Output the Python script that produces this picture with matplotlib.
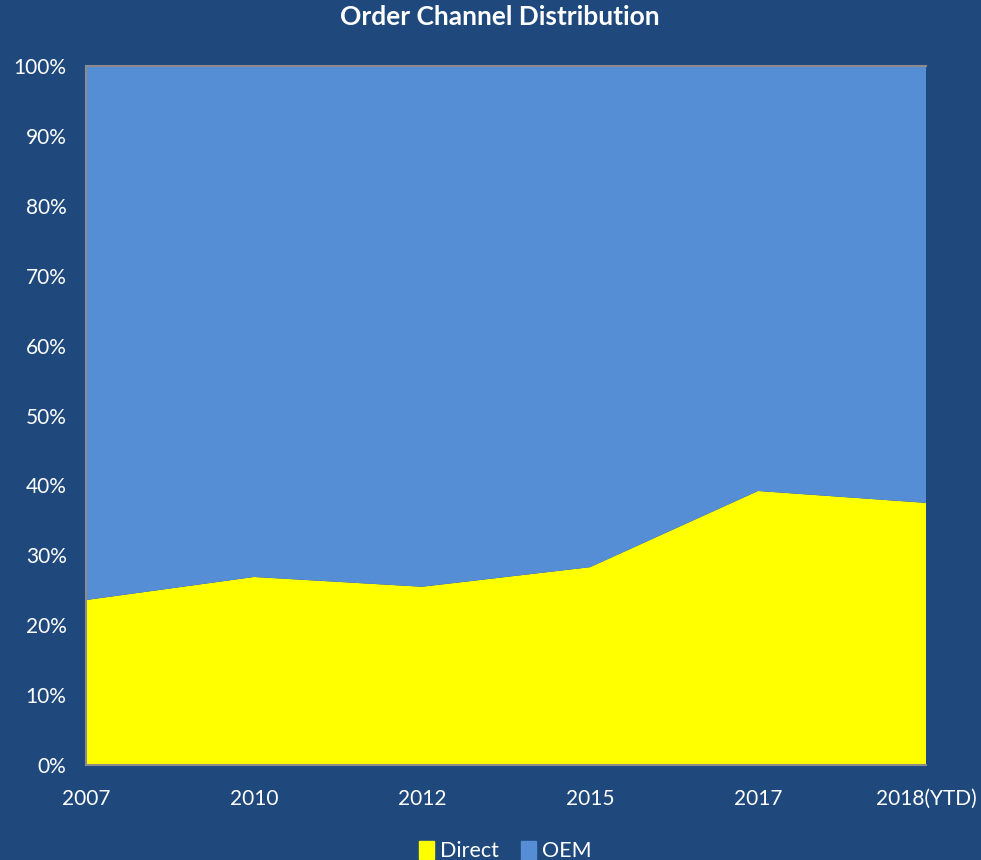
#!/usr/bin/env python3
# Order channel share, stacked to 100%
import matplotlib
matplotlib.use('Agg')
import matplotlib.pyplot as plt
import matplotlib.ticker as mtick
from matplotlib.patches import Patch

years = ['2007', '2010', '2012', '2015', '2017', '2018(YTD)']
direct = [23.6, 26.9, 25.5, 28.3, 39.2, 37.5]
oem = [100 - d for d in direct]

BG = '#1F497D'
plt.rcParams['font.family'] = ['Lato', 'DejaVu Sans']


def draw_channels():
    fig = plt.figure(figsize=(9.81, 8.6), dpi=100, facecolor=BG)
    ax = fig.add_axes([86 / 981, 95 / 860, 840 / 981, 699 / 860])
    ax.set_facecolor(BG)

    x = list(range(len(years)))
    ax.stackplot(x, direct, oem, colors=['#FFFF00', '#558ED5'],
                 labels=['Direct', 'OEM'], linewidth=0)

    ax.set_xlim(0, len(years) - 1)
    ax.set_ylim(0, 100)
    ax.set_xticks(x)
    ax.set_xticklabels(years)
    ax.set_yticks(range(0, 101, 10))
    ax.yaxis.set_major_formatter(mtick.PercentFormatter(decimals=0))
    ax.tick_params(colors='white', labelsize=15, length=0)
    ax.tick_params(axis='y', pad=14)
    ax.tick_params(axis='x', pad=17)

    for side in ['left', 'bottom', 'top']:
        ax.spines[side].set_color('#8C8C8C')
        ax.spines[side].set_linewidth(1.5)
    ax.spines['right'].set_visible(False)

    fig.suptitle('Order Channel Distribution', color='white', fontsize=19,
                 fontweight='bold', x=0.51, y=0.994, va='top')

    handles = [Patch(color='#FFFF00', label='Direct'),
               Patch(color='#558ED5', label='OEM')]
    fig.legend(handles=handles, loc='lower center', bbox_to_anchor=(0.515, -0.024),
               ncol=2, frameon=False, fontsize=15.5, labelcolor='white',
               handlelength=0.7, handleheight=0.9, handletextpad=0.3,
               columnspacing=1.0)

    fig.savefig('out.png', dpi=100, facecolor=BG)


def main():
    draw_channels()


if __name__ == "__main__":
    main()
